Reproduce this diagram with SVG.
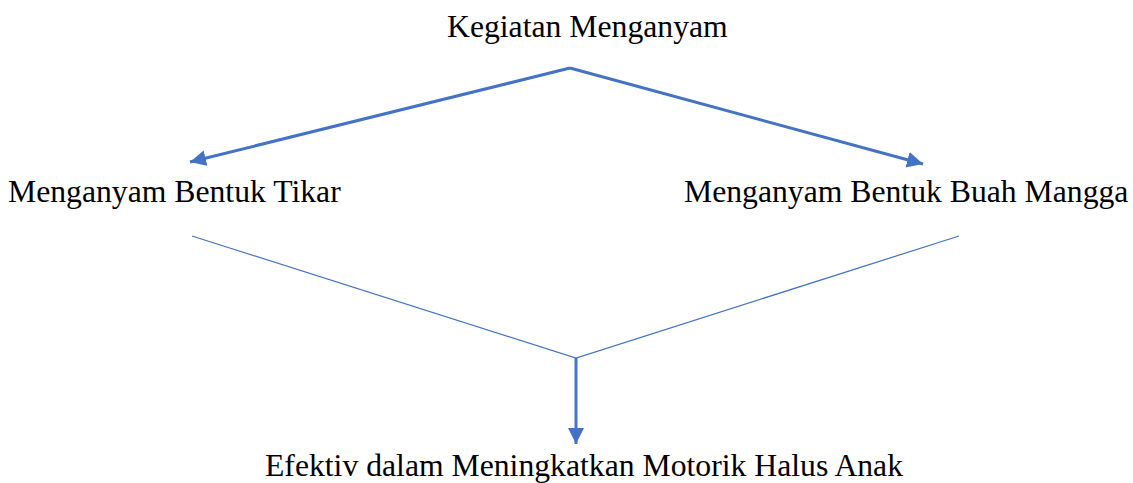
<svg xmlns="http://www.w3.org/2000/svg" width="1133" height="483" viewBox="0 0 1133 483">
<style>
.t{font-family:'Liberation Serif',serif;font-size:31.7px;fill:#000}
.thick{stroke:#4472C4;stroke-width:3;fill:none}
.thin{stroke:#4472C4;stroke-width:1.2;fill:none}
</style>
<defs>
<marker id="ah" viewBox="0 0 10 10" refX="10" refY="5" markerUnits="userSpaceOnUse" markerWidth="16" markerHeight="16" orient="auto">
<path d="M0,0 L10,5 L0,10 Z" fill="#4472C4"/>
</marker>
</defs>
<rect width="1133" height="483" fill="#fff"/>
<g id="n1"><text class="t" font-family="Liberation Serif, serif" x="447" y="37">Kegiatan Menganyam</text></g>
<g id="n2"><text class="t" font-family="Liberation Serif, serif" x="8" y="202">Menganyam Bentuk Tikar</text></g>
<g id="n3"><text class="t" font-family="Liberation Serif, serif" x="684" y="202">Menganyam Bentuk Buah Mangga</text></g>
<g id="n4"><text class="t" font-family="Liberation Serif, serif" x="265" y="476">Efektiv dalam Meningkatkan Motorik Halus Anak</text></g>
<g id="connectors">
<path class="thick" d="M570,68 L190,162" marker-end="url(#ah)"/>
<path class="thick" d="M570,68 L923,164" marker-end="url(#ah)"/>
<path class="thin" d="M192,236 L576,358 L959,236"/>
<path class="thick" d="M576,358 L576,444" marker-end="url(#ah)"/>
</g>
</svg>
